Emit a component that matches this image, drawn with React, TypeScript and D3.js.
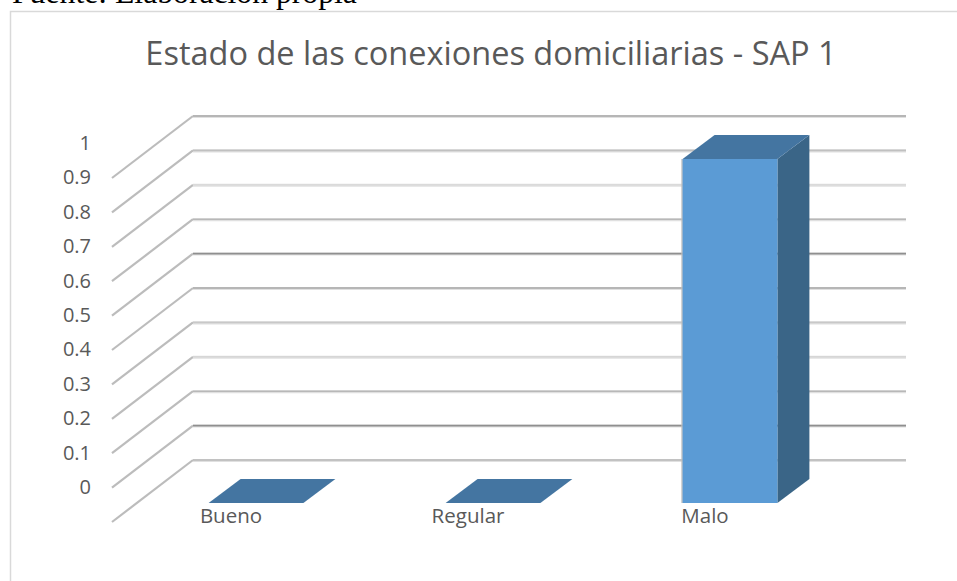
import React from "react";
import * as d3 from "d3";

const categories = ["Bueno", "Regular", "Malo"];
const values = [0, 0, 1];
const ticks = [0, 0.1, 0.2, 0.3, 0.4, 0.5, 0.6, 0.7, 0.8, 0.9, 1];
const gridColors = ["#b8b8b8", "#8f8f8f", "#b8b8b8", "#d6d6d6", "#c8c8c8", "#a8a8a8", "#8f8f8f", "#b8b8b8", "#dadada", "#c0c0c0", "#a8a8a8"];
const titleText = "Estado de las conexiones domiciliarias - SAP 1";
const sourceText = "Fuente: Elaboración propia";

const FONT = "'Open Sans', sans-serif";
const TEXT = "#595959";

export default function App() {
  const y = d3.scaleLinear().domain([0, 1]).range([460, 116]);
  const x = d3.scaleBand<string>().domain(categories).range([137.5, 848.5]).paddingInner(0.6).paddingOuter(0.3);
  const wallLeft = 193, wallRight = 906;
  const depthX = -81, depthY = 62;
  const barFrontDy = 43, barBackDy = 19, barDepthX = 32;
  const w = x.bandwidth();
  const diag = d3.line();

  return (
    <svg width={957} height={581} viewBox="0 0 957 581" style={{ position: "absolute", left: 0, top: 0, background: "#fff" }}>
      <path d="M957,11.5 H10.5 V581" fill="none" stroke="#d9d9d9" strokeWidth={1.5} />
      <text x={12} y={3} fontFamily="'Liberation Serif', serif" fontSize={31.7} fill="#000">{sourceText}</text>
      <text x={491} y={65} textAnchor="middle" fontFamily={FONT} fontSize={32.5} fill={TEXT}>{titleText}</text>

      {ticks.map((t, i) => (
        <g key={t}>
          <path
            d={diag([[wallLeft + depthX, y(t) + depthY], [wallLeft, y(t)]]) ?? ""}
            fill="none"
            stroke="#bcbcbc"
            strokeWidth={2.2}
          />
          <path
            d={diag([[wallLeft, y(t) + 0.5], [wallRight, y(t) + 0.5]]) ?? ""}
            fill="none"
            stroke="#e0e0e0"
            strokeWidth={3}
          />
          <path
            d={diag([[wallLeft, y(t)], [wallRight, y(t)]]) ?? ""}
            fill="none"
            stroke={gridColors[i]}
            strokeWidth={1.6}
          />
          <text x={91} y={y(t) + 34} textAnchor="end" fontFamily={FONT} fontSize={20} fill={TEXT}>{t}</text>
        </g>
      ))}

      {categories.map((c, i) => {
        const x0 = x(c) ?? 0;
        const x1 = x0 + w;
        const top = y(values[i]);
        const bottom = y(0);
        const face = [[x0, top + barFrontDy], [x1, top + barFrontDy], [x1, bottom + barFrontDy], [x0, bottom + barFrontDy]] as [number, number][];
        const side = [[x1, top + barFrontDy], [x1 + barDepthX, top + barBackDy], [x1 + barDepthX, bottom + barBackDy], [x1, bottom + barFrontDy]] as [number, number][];
        const lid = [[x0, top + barFrontDy], [x0 + barDepthX, top + barBackDy], [x1 + barDepthX, top + barBackDy], [x1, top + barFrontDy]] as [number, number][];
        return (
          <g key={c}>
            {values[i] > 0 && (
              <>
                <path d={`M${x0 - 0.5},${top + barFrontDy} V${bottom + barFrontDy}`} stroke="#bdbdbd" strokeWidth={1.5} />
                <path d={(diag(side) ?? "") + "Z"} fill="#3a6587" />
                <path d={(diag(face) ?? "") + "Z"} fill="#5b9bd5" />
              </>
            )}
            <path d={(diag(lid) ?? "") + "Z"} fill="#4475a1" />
            <text x={x0 + w / 2 - 25} y={523} textAnchor="middle" fontFamily={FONT} fontSize={20.5} fill={TEXT}>{c}</text>
          </g>
        );
      })}
    </svg>
  );
}
